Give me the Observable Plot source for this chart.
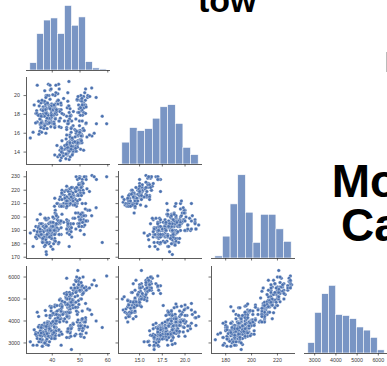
<!DOCTYPE html>
<html><head><meta charset="utf-8">
<script src="https://cdn.jsdelivr.net/npm/d3@7"></script>
<script src="https://cdn.jsdelivr.net/npm/@observablehq/plot@0.6"></script>
<style>
html,body{margin:0;padding:0;background:#fff;}
#chart{position:relative;width:387px;height:366px;overflow:hidden;background:#fff;}
.panel{position:absolute;}
</style></head><body><div id="chart"></div>
<script>
// rows: [bill_length_mm, bill_depth_mm, flipper_length_mm, body_mass_g]
const adelie = [[39.1,18.7,181,3750],[39.5,17.4,186,3800],[40.3,18.0,195,3250],[36.7,19.3,193,3450],[39.3,20.6,190,3650],[38.9,17.8,181,3625],[39.2,19.6,195,4675],[34.1,18.1,193,3475],[42.0,20.2,190,4250],[37.8,17.1,186,3300],[37.8,17.3,180,3700],[41.1,17.6,182,3200],[38.6,21.2,191,3800],[34.6,21.1,198,4400],[36.6,17.8,185,3700],[38.7,19.0,195,3450],[42.5,20.7,197,4500],[34.4,18.4,184,3325],[46.0,21.5,194,4200],[37.8,18.3,174,3400],[37.7,18.7,180,3600],[35.9,19.2,189,3800],[38.2,18.1,185,3950],[38.8,17.2,180,3800],[35.3,18.9,187,3800],[40.6,18.6,183,3550],[40.5,17.9,187,3200],[37.9,18.6,172,3150],[40.5,18.9,180,3950],[39.5,16.7,178,3250],[37.2,18.1,178,3900],[39.5,17.8,188,3300],[40.9,18.9,184,3900],[36.4,17.0,195,3325],[39.2,21.1,196,4150],[38.8,20.0,190,3950],[42.2,18.5,180,3550],[37.6,19.3,181,3300],[39.8,19.1,184,4650],[36.5,18.0,182,3150],[40.8,18.4,195,3900],[36.0,18.5,186,3100],[44.1,19.7,196,4400],[37.0,16.9,185,3000],[39.6,18.8,190,4600],[41.1,19.0,182,3425],[37.5,18.9,179,2975],[36.0,17.9,190,3450],[42.3,21.2,191,4150],[39.6,17.7,186,3500],[40.1,18.9,188,4300],[35.0,17.9,190,3450],[42.0,19.5,200,4050],[34.5,18.1,187,2900],[41.4,18.6,191,3700],[39.0,17.5,186,3550],[40.6,18.8,193,3800],[36.5,16.6,181,2850],[37.6,19.1,194,3750],[35.7,16.9,185,3150],[41.3,21.1,195,4400],[37.6,17.0,185,3600],[41.1,18.2,192,4050],[36.4,17.1,184,2850],[41.6,18.0,192,3950],[35.5,16.2,195,3350],[41.1,19.1,188,4100],[35.9,16.6,190,3050],[41.8,19.4,198,4450],[33.5,19.0,190,3600],[39.7,18.4,190,3900],[39.6,17.2,196,3550],[45.8,18.9,197,4150],[35.5,17.5,190,3700],[42.8,18.5,195,4250],[40.9,16.8,191,3700],[37.2,19.4,184,3900],[36.2,16.1,187,3550],[42.1,19.1,195,4000],[34.6,17.2,189,3200],[42.9,17.6,196,4700],[36.7,18.8,187,3800],[35.1,19.4,193,4200],[37.3,17.8,191,3350],[41.3,20.3,194,3550],[36.3,19.5,190,3800],[36.9,18.6,189,3500],[38.3,19.2,189,3950],[38.9,18.8,190,3600],[35.7,18.0,202,3550],[41.1,18.1,205,4300],[34.0,17.1,185,3400],[39.6,18.1,186,4450],[36.2,17.3,187,3300],[40.8,18.9,208,4300],[38.1,18.6,190,3700],[40.3,18.5,196,4350],[33.1,16.1,178,2900],[43.2,18.5,192,4100],[35.0,17.9,192,3725],[41.0,20.0,203,4725],[37.7,16.0,183,3075],[37.8,20.0,190,4250],[37.9,18.6,193,2925],[39.7,18.9,184,3550],[38.6,17.2,199,3750],[38.2,20.0,190,3900],[38.1,17.0,181,3175],[43.2,19.0,197,4775],[38.1,16.5,198,3825],[45.6,20.3,191,4600],[39.7,17.7,193,3200],[42.2,19.5,197,4275],[39.6,20.7,191,3900],[42.7,18.3,196,4075],[38.6,17.0,188,2900],[37.3,20.5,199,3775],[35.7,17.0,189,3350],[41.1,18.6,189,3325],[36.2,17.2,187,3150],[37.7,19.8,198,3500],[40.2,17.0,176,3450],[41.4,18.5,202,3875],[35.2,15.9,186,3050],[40.6,19.0,199,4000],[38.8,17.6,191,3275],[41.5,18.3,195,4300],[39.0,17.1,191,3050],[44.1,18.0,210,4000],[38.5,17.9,190,3325],[43.1,19.2,197,3500],[36.8,18.5,193,3500],[37.5,18.5,199,4475],[38.1,17.6,187,3425],[41.1,17.5,190,3900],[35.6,17.5,191,3175],[40.2,20.1,200,3975],[37.0,16.5,185,3400],[39.7,17.9,193,4250],[40.2,17.1,193,3400],[40.6,17.2,187,3475],[32.1,15.5,188,3050],[40.7,17.0,190,3725],[37.3,16.8,192,3000],[39.0,18.7,185,3650],[39.2,18.6,190,4250],[36.6,18.4,184,3475],[36.0,17.8,195,3450],[37.8,18.1,193,3750],[36.0,17.1,187,3700],[41.5,18.5,201,4000]];
const chinstrap = [[46.5,17.9,192,3500],[50.0,19.5,196,3900],[51.3,19.2,193,3650],[45.4,18.7,188,3525],[52.7,19.8,197,3725],[45.2,17.8,198,3950],[46.1,18.2,178,3250],[51.3,18.2,197,3750],[46.0,18.9,195,4150],[51.3,19.9,198,3700],[46.6,17.8,193,3800],[51.7,20.3,194,3775],[47.0,17.3,185,3700],[52.0,18.1,201,4050],[45.9,17.1,190,3575],[50.5,19.6,201,4050],[50.3,20.0,197,3300],[58.0,17.8,181,3700],[46.4,18.6,190,3450],[49.2,18.2,195,4400],[42.4,17.3,181,3600],[48.5,17.5,191,3400],[43.2,16.6,187,2900],[50.6,19.4,193,3800],[46.7,17.9,195,3300],[52.0,19.0,197,4150],[50.5,18.4,200,3400],[49.5,19.0,200,3800],[46.4,17.8,191,3700],[52.8,20.0,205,4550],[40.9,16.6,187,3200],[54.2,20.8,201,4300],[42.5,16.7,187,3350],[51.0,18.8,203,4100],[49.7,18.6,195,3600],[47.5,16.8,199,3900],[47.6,18.3,195,3850],[52.0,20.7,210,4800],[46.9,16.6,192,2700],[53.5,19.9,205,4500],[49.0,19.5,210,3950],[46.2,17.5,187,3650],[50.9,19.1,196,3550],[45.5,17.0,196,3500],[50.9,17.9,196,3675],[50.8,18.5,201,4450],[50.1,17.9,190,3400],[49.0,19.6,212,4300],[51.5,18.7,187,3250],[49.8,17.3,198,3675],[48.1,16.4,199,3325],[51.4,19.0,201,3950],[45.7,17.3,193,3600],[50.7,19.7,203,4050],[42.5,17.3,187,3350],[52.2,18.8,197,3450],[45.2,16.6,191,3250],[49.3,19.9,203,4050],[50.2,18.8,202,3800],[45.6,19.4,194,3525],[51.9,19.5,206,3950],[46.8,16.5,189,3650],[45.7,17.0,195,3650],[55.8,19.8,207,4000],[43.5,18.1,202,3400],[49.6,18.2,193,3775],[50.8,19.0,210,4100],[50.2,18.7,198,3775]];
const gentoo = [[46.1,13.2,211,4500],[50.0,16.3,230,5700],[48.7,14.1,210,4450],[50.0,15.2,218,5700],[47.6,14.5,215,5400],[46.5,13.5,210,4550],[45.4,14.6,211,4800],[46.7,15.3,219,5200],[43.3,13.4,209,4400],[46.8,15.4,215,5150],[40.9,13.7,214,4650],[49.0,16.1,216,5550],[45.5,13.7,214,4650],[48.4,14.6,213,5850],[45.8,14.6,210,4200],[49.3,15.7,217,5850],[42.0,13.5,210,4150],[49.2,15.2,221,6300],[46.2,14.5,209,4800],[48.7,15.1,222,5350],[50.2,14.3,218,5700],[45.1,14.5,215,5000],[46.5,14.5,213,4400],[46.3,15.8,215,5050],[42.9,13.1,215,5000],[46.1,15.1,215,5100],[44.5,14.3,216,4100],[47.8,15.0,215,5650],[48.2,14.3,210,4600],[50.0,15.3,220,5550],[47.3,15.3,222,5250],[42.8,14.2,209,4700],[45.1,14.5,207,5050],[59.6,17.0,230,6050],[49.1,14.8,220,5150],[48.4,16.3,220,5400],[42.6,13.7,213,4950],[44.4,17.3,219,5250],[44.0,13.6,208,4350],[48.7,15.7,208,5350],[42.7,13.7,208,3950],[49.6,16.0,225,5700],[45.3,13.7,210,4300],[49.6,15.0,216,4750],[50.5,15.9,222,5550],[43.6,13.9,217,4900],[45.5,13.9,210,4200],[50.5,15.9,225,5400],[44.9,13.3,213,5100],[45.2,15.8,215,5300],[46.6,14.2,210,4850],[48.5,14.1,220,5300],[45.1,14.4,210,4400],[50.1,15.0,225,5000],[46.5,14.4,217,4900],[45.0,15.4,220,5050],[43.8,13.9,208,4300],[45.5,15.0,220,5000],[43.2,14.5,208,4450],[50.4,15.3,224,5550],[45.3,13.8,208,4200],[46.2,14.9,221,5300],[45.7,13.9,214,4400],[54.3,15.7,231,5650],[45.8,14.2,219,4700],[49.8,16.8,230,5700],[46.2,14.4,214,4650],[49.5,16.2,229,5800],[43.5,14.2,220,4700],[50.7,15.0,223,5550],[47.7,15.0,216,4750],[46.4,15.6,221,5000],[48.2,15.6,221,5100],[46.5,14.8,217,5200],[46.4,15.0,216,4700],[48.6,16.0,230,5800],[47.5,14.2,209,4600],[51.1,16.3,220,6000],[45.2,13.8,215,4750],[45.2,16.4,223,5950],[49.1,14.5,212,4625],[52.5,15.6,221,5450],[47.4,14.6,212,4725],[50.0,15.9,224,5350],[44.9,13.8,212,4750],[50.8,17.3,228,5600],[43.4,14.4,218,4600],[51.3,14.2,218,5300],[47.5,14.0,212,4875],[52.1,17.0,230,5550],[47.5,15.0,218,4950],[52.2,17.1,228,5400],[45.5,14.5,212,4750],[49.5,16.1,224,5650],[44.5,14.7,214,4850],[50.8,15.7,226,5200],[49.4,15.8,216,4925],[46.9,14.6,222,4875],[48.4,14.4,203,4625],[51.1,16.5,225,5250],[48.5,15.0,219,4850],[55.9,17.0,228,5600],[47.2,15.5,215,4975],[49.1,15.0,228,5500],[47.3,13.8,216,4725],[46.8,16.1,215,5500],[41.7,14.7,210,4700],[53.4,15.8,219,5500],[43.3,14.0,208,4575],[48.1,15.1,209,5500],[50.5,15.2,216,5000],[49.8,15.9,229,5950],[43.5,15.2,213,4650],[51.5,16.3,230,5500],[46.2,14.1,217,4375],[55.1,16.0,230,5850],[48.8,16.2,222,6000],[47.2,13.7,214,4925],[46.8,14.3,215,4850],[50.4,15.7,222,5750],[45.2,14.8,212,5200],[49.9,16.1,213,5400]];

const variables = ["bill_length_mm", "bill_depth_mm", "flipper_length_mm", "body_mass_g"];
// histogram counts on the diagonal
const histBillLength = [7, 35, 48, 50, 35, 62, 43, 51, 8, 2, 1];
const histBillDepth = [21, 35, 32, 34, 44, 55, 57, 39, 16, 9];
const histFlipper = [2, 21, 52, 80, 44, 15, 42, 42, 28, 16];
const histBodyMass = [10, 39, 57, 65, 37, 36, 33, 25, 22, 15, 3];
const histCounts = [histBillLength, histBillDepth, histFlipper, histBodyMass];
const dataRange = [[32.1, 59.6], [13.1, 21.5], [172, 231], [2700, 6300]];
// tick labels
const xTickValues = [[40, 50, 60], [15, 17.5, 20], [180, 200, 220], [3000, 4000, 5000, 6000]];
const yTickValues = [[], [14, 16, 18, 20], [170, 180, 190, 200, 210, 220, 230], [3000, 4000, 5000, 6000]];
const xTickFormat = [d => String(d), d => d.toFixed(1), d => String(d), d => String(d)];

const penguins = [...adelie, ...chinstrap, ...gentoo];

const W = 84, H = 87;
const colLeft = [25.8, 118.4, 211.0, 303.6];
const rowTop = [-17.5, 76.9, 171.3, 265.7];
const ml = 30, mr = 4, mt = 4, mb = 12;
const blue = "#4c72b0";
const ink = "#333";
const FONT = "'Liberation Sans', Arial, sans-serif";

const dom = i => {
  const [a, b] = dataRange[i];
  const p = (b - a) * 0.05;
  return [a - p, b + p];
};

const chart = document.getElementById("chart");

function addPanel(row, col) {
  const xd = dom(col);
  const isDiag = row === col;
  const yd = isDiag ? [0, 83.6] : dom(row);
  const marks = [];
  if (isDiag) {
    const counts = histCounts[col];
    const [a, b] = dataRange[col];
    const w = (b - a) / counts.length;
    const bins = counts.map((c, k) => ({x1: a + k * w, x2: a + (k + 1) * w, y: c}));
    marks.push(Plot.rectY(bins, {x1: "x1", x2: "x2", y: "y", fill: blue, fillOpacity: 0.75, stroke: "white", strokeWidth: 0.6}));
  } else {
    marks.push(Plot.dot(penguins, {x: d => d[col], y: d => d[row], r: 1.75, fill: blue, stroke: "white", strokeWidth: 0.3}));
    marks.push(Plot.ruleX([xd[0]], {stroke: ink, strokeWidth: 0.8}));
    marks.push(Plot.axisY({
      ticks: yTickValues[row], tickSize: 2.5, tickPadding: 4, label: null,
      tickFormat: col === 0 ? (d => String(d)) : (() => ""),
      stroke: ink, strokeWidth: 0.7
    }));
  }
  marks.push(Plot.ruleY([yd[0]], {stroke: ink, strokeWidth: 0.8}));
  marks.push(Plot.axisX({
    ticks: xTickValues[col], tickSize: 2.5, tickPadding: 2.2, label: null,
    tickFormat: row === 3 ? xTickFormat[col] : (() => ""),
    stroke: ink, strokeWidth: 0.7
  }));
  const svg = Plot.plot({
    width: W + ml + mr, height: H + mt + mb,
    marginLeft: ml, marginRight: mr, marginTop: mt, marginBottom: mb,
    x: {domain: xd, axis: null, label: null},
    y: {domain: yd, axis: null, label: null},
    style: {fontFamily: FONT, fontSize: "5.3px", color: "#3a3a3a", background: "transparent", overflow: "visible"},
    marks
  });
  svg.classList.add("panel");
  svg.style.left = (colLeft[col] - ml) + "px";
  svg.style.top = (rowTop[row] - mt) + "px";
  chart.appendChild(svg);
}

for (let r = 0; r < 4; r++) for (let c = 0; c <= r; c++) addPanel(r, c);

// overlay texts (slide fragments)
const ov = d3.select(chart).append("svg").attr("width", 387).attr("height", 366)
  .style("position", "absolute").style("left", 0).style("top", 0).style("pointer-events", "none");
ov.append("text").text("tow").attr("x", 198).attr("y", 11.7)
  .attr("font-family", FONT).attr("font-weight", "bold").attr("font-size", 34).attr("fill", "#000");
ov.append("text").text("Mo").attr("x", 331.8).attr("y", 196.5)
  .attr("font-family", FONT).attr("font-weight", "bold").attr("font-size", 46).attr("fill", "#000");
ov.append("text").text("Ca").attr("x", 341).attr("y", 241)
  .attr("font-family", FONT).attr("font-weight", "bold").attr("font-size", 46).attr("fill", "#000");
ov.append("line").attr("x1", 386.5).attr("x2", 386.5).attr("y1", 52).attr("y2", 72)
  .attr("stroke", "#bbb").attr("stroke-width", 1);
</script></body></html>
